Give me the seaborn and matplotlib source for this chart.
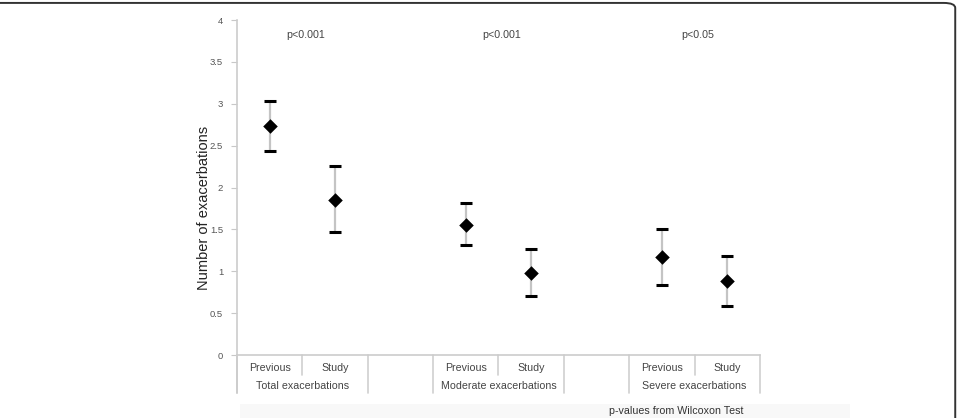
import matplotlib.pyplot as plt
import seaborn as sns
import pandas as pd
import numpy as np
from matplotlib.patches import FancyBboxPatch, Rectangle

# values
groups = ['Total exacerbations', 'Moderate exacerbations', 'Severe exacerbations']
periods = ['Previous', 'Study']
means = [2.73, 1.85, 1.55, 0.98, 1.17, 0.88]
upper = [3.03, 2.26, 1.81, 1.26, 1.51, 1.18]
lower = [2.44, 1.47, 1.31, 0.70, 0.84, 0.58]
pvalues = ['p<0.001', 'p<0.001', 'p<0.05']

# each group takes 2 slots plus one empty slot between groups
rows = []
for g, grp in enumerate(groups):
    for p, per in enumerate(periods):
        i = g * 2 + p
        rows.append({'group': grp, 'period': per, 'pos': g * 3 + p,
                     'mean': means[i], 'upper': upper[i], 'lower': lower[i]})
df = pd.DataFrame(rows)

sns.set_style('white')
plt.rcParams['font.family'] = ['Liberation Sans', 'DejaVu Sans']

fig = plt.figure(figsize=(9.61, 4.18), dpi=100)
ax = fig.add_axes([0.2466, 0.1507, 0.5442, 0.8014])

# error bars: grey stem, black caps
yerr = np.vstack([df['mean'] - df['lower'], df['upper'] - df['mean']])
eb = ax.errorbar(df['pos'], df['mean'], yerr=yerr, fmt='none', ecolor='#c4c4c4',
                 elinewidth=1.6, capsize=4.3, capthick=2.2, zorder=2)
for cap in eb[1]:
    cap.set_color('black')
    cap.set_markeredgecolor('black')
    cap.set_zorder(4)

sns.scatterplot(data=df, x='pos', y='mean', marker='D', s=55, color='black',
                edgecolor='black', linewidth=0, ax=ax, zorder=3)

ax.set_xlim(-0.5, 7.5)
ax.set_ylim(0, 4)
ax.set_yticks(np.arange(0, 4.01, 0.5))
ax.set_yticklabels([f'{v:g}' for v in np.arange(0, 4.01, 0.5)], fontsize=6.8, color='#555555')
ax.tick_params(axis='y', length=4, width=0.8, color='#c8c8c8', pad=6, left=True)
ax.set_xticks([])
ax.set_xlabel('')
ax.set_ylabel('Number of exacerbations', fontsize=10.5, color='#222222')
ax.yaxis.set_label_coords(-0.05, 0.44)

for side in ['top', 'right']:
    ax.spines[side].set_visible(False)
ax.spines['left'].set_color('#cccccc')
ax.spines['left'].set_linewidth(1.2)
ax.spines['bottom'].set_color('#cccccc')
ax.spines['bottom'].set_linewidth(1.2)

# category table under the axis
trans = ax.get_xaxis_transform()
for _, r in df.iterrows():
    ax.text(r['pos'], -0.038, r['period'], transform=trans, ha='center', va='center',
            fontsize=7.7, color='#444444')
for g, grp in enumerate(groups):
    ax.text(g * 3 + 0.5, -0.092, grp, transform=trans, ha='center', va='center',
            fontsize=7.7, color='#444444')
    ax.text(g * 3 + 0.55, 0.955, pvalues[g], transform=trans, ha='center', va='center',
            fontsize=7.7, color='#444444')

n_slots = len(groups) * 3 - 1
for b in np.arange(-0.5, n_slots, 1.0):
    short = (b + 0.5) % 3 == 1
    y0 = -0.06 if short else -0.113
    ax.plot([b, b], [0, y0], transform=trans, color='#d0d0d0', lw=1.2, clip_on=False)
ax.plot([-0.5, -0.5], [0, -0.113], transform=trans, color='#cccccc', lw=1.2, clip_on=False)

# footer note and faint band
fig.patches.append(Rectangle((240 / 961, 0), (850 - 240) / 961, 14 / 418,
                             transform=fig.transFigure, facecolor='#f8f8f8',
                             edgecolor='none', zorder=0))
fig.text(676 / 961, 1 - 411 / 418, 'p-values from Wilcoxon Test', ha='center', va='center',
         fontsize=7.7, color='#333333')

# rounded frame around the figure (left and bottom edges fall off the canvas)
fig.patches.append(FancyBboxPatch((-0.012, -0.2), 1.006, 1.193,
                                  boxstyle='round,pad=0,rounding_size=0.012',
                                  transform=fig.transFigure, facecolor='none',
                                  edgecolor='#333333', linewidth=1.4, zorder=5))

fig.savefig('out.png', dpi=100)
